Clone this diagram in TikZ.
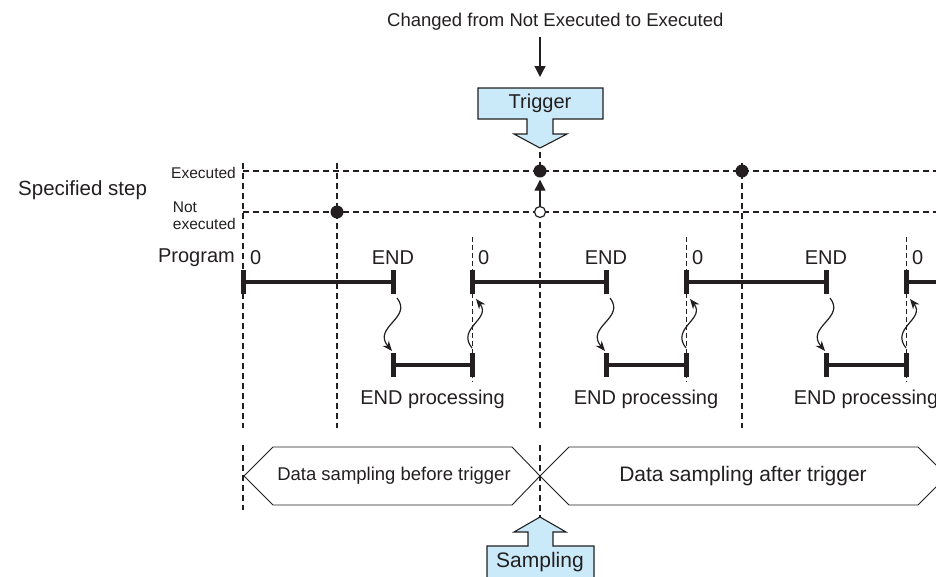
\documentclass[tikz,border=0pt]{standalone}
\usepackage{fontspec}
\setmainfont{Liberation Sans}
\usetikzlibrary{arrows.meta,calc}
\definecolor{trigblue}{RGB}{203,234,249}
\definecolor{inkgray}{RGB}{35,31,32}
\tikzset{
 lbl/.style={inner sep=0pt,text=inkgray,font=\fontsize{20}{22}\selectfont},
 small/.style={lbl,font=\fontsize{15.5}{17}\selectfont},
 guide/.style={draw=inkgray,line width=1.4pt,dash pattern=on 6pt off 4pt},
 thinguide/.style={draw=inkgray,line width=0.9pt,dash pattern=on 5pt off 3pt},
 bar/.style={draw=inkgray,line width=4pt},
 tickmark/.style={draw=inkgray,line width=5pt},
 wave/.style={-{Stealth[length=10pt,width=8pt]},draw=inkgray,line width=1.2pt},
 arrow/.style={-{Triangle[length=11pt,width=11pt]},draw=inkgray,line width=1.2pt},
 pointer/.style={draw=inkgray,fill=trigblue,line width=1.1pt,line join=miter},
 phase/.style={draw=inkgray,line width=0.9pt},
 dot/.style={circle,fill=inkgray,inner sep=0pt,minimum size=13pt},
 hole/.style={circle,draw=inkgray,fill=white,line width=1.2pt,inner sep=0pt,minimum size=11pt}}

\begin{document}
\begin{tikzpicture}[x=1pt,y=-1pt]
\useasboundingbox (0,0) rectangle (936,576);
\clip (0,0) rectangle (936,576);

% step levels
\draw[guide] (243,171) -- (940,171);
\draw[guide] (243,212) -- (940,212);

% cycle guides
\foreach \x in {243,337,742}
  \draw[guide] (\x,163) -- (\x,428);
\draw[guide] (540,152) -- (540,171);
\draw[guide] (540,212) -- (540,428);
\draw[guide] (243,445) -- (243,510);
\draw[guide] (540,445) -- (540,517);

% labels on the left
\node[lbl,anchor=west,font=\fontsize{20.5}{23}\selectfont] (spec) at (18,190) {Specified step};
\node[small,anchor=east] (exe) at (236,173) {Executed};
\node[small,anchor=east,align=left] (nexe) at (236,216) {Not\\executed};
\node[lbl,anchor=east] (prog) at (235,258) {Program};

% specified step changes
\node[dot] (chg1) at (337,212) {};
\node[hole] (ne) at (540,212) {};
\node[dot] (ex) at (540,171) {};
\node[dot] (chg2) at (742,171) {};
\draw[arrow,shorten >=2pt] (ne) -- (ex);

% trigger
\node[lbl,anchor=west,font=\fontsize{18.5}{20}\selectfont] (cause) at (387,22) {Changed from Not Executed to Executed};
\coordinate (trigtop) at (540,77);
\draw[arrow] (cause.south -| trigtop) ++(0,6) -- (trigtop);
\draw[pointer] (478,88) -- (603,88) -- (603,119) -- (553,119) -- (553,134) -- (567,134)
  -- (540,148) -- (514,134) -- (527,134) -- (527,119) -- (478,119) -- cycle;
\node[lbl] (trig) at (540,103) {Trigger};

% program scans
\draw[bar] (243,282) -- (393,282);
\draw[bar] (472,282) -- (606,282);
\draw[bar] (686,282) -- (826,282);
\draw[bar] (906,282) -- (950,282);
\draw[tickmark] (243,270) -- (243,294);
\node[lbl,anchor=west] (zero0) at (250,258) {0};
\foreach \e/\z in {393/472,606/686,826/906}{
  \draw[thinguide] (\z,237) -- (\z,382);
  \draw[tickmark] (\e,270) -- (\e,294);
  \draw[tickmark] (\z,270) -- (\z,294);
  \draw[bar] (\e,365) -- (\z,365);
  \draw[tickmark] (\e,353) -- (\e,377);
  \draw[tickmark] (\z,353) -- (\z,377);
  \node[lbl] (end\e) at (\e,258) {END};
  \node[lbl,anchor=west] (zero\z) at (\z+6,258) {0};
  \node[lbl] (proc\e) at ({(\e+\z)/2},399) {END processing};
  \coordinate (go\e) at (\e+4,298);
  \coordinate (in\e) at (\e-1,351);
  \coordinate (out\z) at (\z,348);
  \coordinate (back\z) at (\z+4,299);
  \draw[wave] (go\e) .. controls +(16,20) and +(-20,-24) .. (in\e);
  \draw[wave] (out\z) .. controls +(-16,-20) and +(16,20) .. (back\z);
}

% sampling phases
\draw[phase] (244,476) -- (273,447) -- (512,447) -- (540,476) -- (512,505) -- (273,505) -- cycle;
\draw[phase] (540,476) -- (569,447) -- (918,447) -- (947,476) -- (918,505) -- (569,505) -- cycle;
\node[lbl,font=\fontsize{18.5}{20}\selectfont] (before) at (394,476) {Data sampling before trigger};
\node[lbl,font=\fontsize{21}{23}\selectfont] (after) at (743,476) {Data sampling after trigger};

% sampling
\draw[pointer] (540,517) -- (566,532) -- (553,532) -- (553,546) -- (594,546) -- (594,590)
  -- (487,590) -- (487,546) -- (528,546) -- (528,532) -- (514,532) -- cycle;
\node[lbl,font=\fontsize{21}{23}\selectfont] (samp) at (540,562) {Sampling};
\end{tikzpicture}
\end{document}
